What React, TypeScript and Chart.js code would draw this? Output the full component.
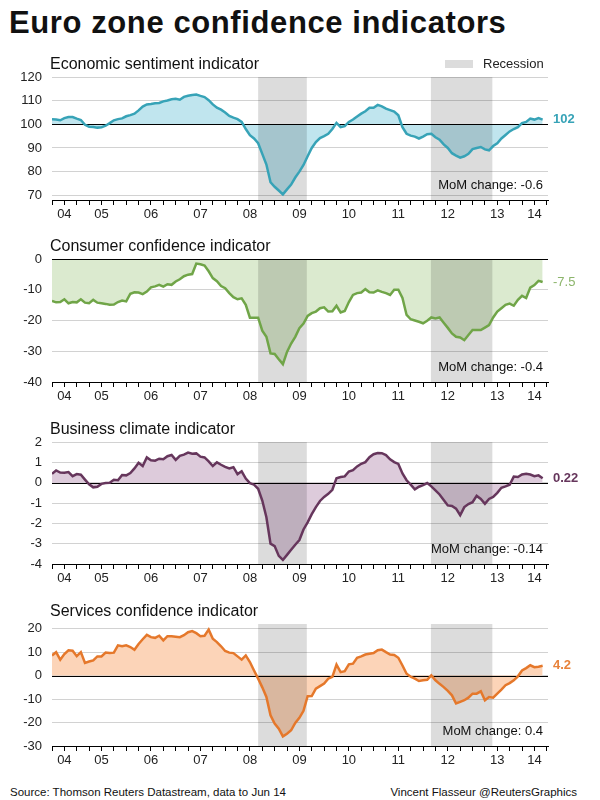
import React, { useEffect, useRef } from "react";
import { Chart, registerables } from "chart.js";

Chart.register(...registerables);

const FONT = '"Liberation Sans", Arial, Helvetica, sans-serif';

// Monthly values, index 0 = Jul 2004 ... index 119 = Jun 2014
const esiValues = [
  102.1, 102.0, 101.7, 102.6, 103.1, 103.1, 102.4, 101.8, 99.8, 99.0, 98.9, 98.6,
  98.7, 99.4, 100.5, 101.7, 102.2, 102.5, 103.4, 103.9, 104.5, 105.9, 107.5, 108.4,
  108.6, 108.9, 109.0, 109.7, 110.1, 110.6, 110.8, 110.4, 111.6, 112.1, 112.4, 112.6,
  112.0, 111.5, 110.2, 108.4, 107.0, 106.2, 105.0, 103.5, 102.8, 102.2, 101.0, 98.0,
  95.4, 94.0, 92.0, 87.5, 83.0, 75.5, 73.6, 72.0, 70.4, 72.5, 74.5, 77.5,
  80.0, 82.8, 86.5, 90.0, 92.5, 94.2, 95.0, 96.0, 98.0, 100.6, 98.8, 99.2,
  101.0, 102.0, 103.3, 104.5, 105.5, 107.0, 107.0, 108.2, 107.6, 106.6, 106.0, 105.4,
  103.8, 98.8, 96.0, 95.2, 94.8, 94.0, 94.8, 95.8, 96.0, 94.5, 93.5, 91.5,
  90.0, 87.8, 86.8, 85.9, 86.5, 87.5, 89.5, 90.0, 90.4, 89.4, 89.0, 90.8,
  92.0, 94.0, 95.5, 97.0, 98.0, 98.8, 100.5, 101.0, 102.4, 102.0, 102.6, 102.0,
];

const consumerValues = [
  -13.6, -14.1, -14.0, -13.1, -14.4, -14.0, -14.1, -13.1, -14.2, -14.4, -13.3, -14.2,
  -14.4, -14.6, -14.9, -14.8, -14.0, -13.5, -13.8, -11.3, -10.8, -10.9, -11.4, -10.6,
  -9.2, -8.9, -8.4, -9.0, -8.2, -8.4, -7.3, -6.6, -5.6, -5.1, -4.9, -1.5,
  -1.7, -2.1, -4.0, -6.2, -7.2, -8.8, -9.5, -11.1, -12.4, -13.1, -12.8, -14.9,
  -19.1, -19.1, -19.1, -23.3, -25.3, -30.7, -30.9, -32.6, -34.2, -30.2, -27.5, -25.3,
  -22.5, -21.0, -18.5, -17.6, -17.1, -16.0, -15.7, -17.1, -17.0, -15.2, -17.4, -16.9,
  -14.0, -11.7, -11.1, -10.9, -9.8, -10.8, -10.9, -10.2, -10.7, -11.1, -11.7, -10.0,
  -10.0, -12.7, -18.2, -19.6, -20.0, -20.4, -20.9, -20.1, -19.0, -19.3, -19.0, -20.7,
  -22.4, -24.2, -25.3, -25.5, -26.4, -24.7, -23.1, -23.1, -23.1, -22.3, -21.5, -19.0,
  -17.1, -16.0, -14.9, -14.5, -15.2, -13.3, -12.0, -12.7, -9.3, -8.5, -7.1, -7.5,
];

const businessValues = [
  0.44, 0.6, 0.5, 0.49, 0.52, 0.32, 0.42, 0.39, 0.15, -0.08, -0.23, -0.2,
  -0.06, -0.02, -0.01, 0.14, 0.12, 0.38, 0.36, 0.47, 0.7, 0.98, 0.82, 1.24,
  1.1, 1.08, 1.18, 1.15, 1.3, 1.36, 1.12, 1.32, 1.38, 1.48, 1.42, 1.44,
  1.28, 1.24, 1.05, 0.82, 1.0, 0.88, 0.78, 0.7, 0.76, 0.42, 0.56, 0.2,
  -0.02, -0.1, -0.3, -0.88, -1.7, -3.0, -3.12, -3.6, -3.8, -3.55, -3.3, -3.05,
  -2.82, -2.3, -1.95, -1.55, -1.2, -0.9, -0.7, -0.55, -0.35, 0.22, 0.28, 0.31,
  0.55, 0.62, 0.8, 0.93, 1.01, 1.25, 1.4, 1.46, 1.45, 1.36, 1.15, 1.01,
  0.92, 0.45, 0.12, -0.1, -0.33, -0.2, -0.12, -0.02, -0.18, -0.38, -0.58, -0.85,
  -1.12, -1.15, -1.28, -1.6, -1.2, -1.05, -0.96, -0.65, -0.8, -1.04, -0.8, -0.7,
  -0.5, -0.25, -0.18, -0.1, 0.3, 0.28, 0.4, 0.44, 0.4, 0.32, 0.36, 0.22,
];

const servicesValues = [
  8.6, 10.0, 6.8, 9.2, 10.8, 10.6, 8.3, 10.0, 5.4, 6.0, 6.5, 8.2,
  8.2, 9.8, 9.6, 9.8, 12.9, 12.5, 12.9, 12.2, 11.0, 13.5, 15.5, 17.4,
  16.4, 16.1, 17.0, 15.0, 16.8, 16.8, 16.6, 16.4, 17.2, 18.5, 19.0, 18.1,
  16.8, 17.0, 19.6, 15.7, 14.3, 12.5, 10.5, 9.8, 9.6, 8.2, 6.8, 8.6,
  5.8, 2.2, -1.3, -5.0, -9.1, -16.9, -20.4, -22.6, -25.9, -24.8, -23.3, -20.2,
  -18.0, -15.0, -8.8, -8.7, -5.6, -4.5, -3.4, -1.3, -0.5, 4.7, 1.5, 1.9,
  4.8, 5.1, 7.6, 8.2, 9.0, 9.3, 9.6, 10.8, 11.1, 10.0, 9.0, 8.8,
  7.6, 4.3, 0.8, -0.5, -1.3, -2.3, -2.0, -1.8, 0.1, -2.0, -3.5, -4.9,
  -6.5, -8.4, -11.9, -11.2, -10.5, -9.4, -7.7, -7.7, -6.7, -10.5, -9.1, -9.4,
  -7.7, -6.0, -4.1, -3.2, -2.0, -0.3, 2.2, 3.2, 4.4, 3.6, 3.8, 4.2,
];

// x axis: quarterly ticks, year labels
const quarterTicks = Array.from({ length: 41 }, (_, i) => i * 3);
const yearLabels = ["04", "05", "06", "07", "08", "09", "10", "11", "12", "13", "14"];
const yearLabelPos = [3, 12, 24, 36, 48, 60, 72, 84, 96, 108, 117];

// recession periods (months since Jul 2004)
const recessionStart = [50, 91.9];
const recessionEnd = [61.8, 106.8];

const esiTicks = [70, 80, 90, 100, 110, 120];
const consumerTicks = [-40, -30, -20, -10, 0];
const businessTicks = [-4, -3, -2, -1, 0, 1, 2];
const servicesTicks = [-30, -20, -10, 0, 10, 20];

const panelTitles = [
  "Economic sentiment indicator",
  "Consumer confidence indicator",
  "Business climate indicator",
  "Services confidence indicator",
];
const endLabels = ["102", "-7.5", "0.22", "4.2"];
const momLabels = [
  "MoM change: -0.6",
  "MoM change: -0.4",
  "MoM change: -0.14",
  "MoM change: 0.4",
];

type PanelCfg = {
  values: number[];
  ticks: number[];
  min: number;
  max: number;
  base: number;
  line: string;
  fill: string;
  labelColor: string;
  labelBold: boolean;
  plotTop: number;
  plotBottom: number;
  title: string;
  endLabel: string;
  mom: string;
};

const panels: PanelCfg[] = [
  {
    values: esiValues, ticks: esiTicks, min: 68, max: 120, base: 100,
    line: "#37a3b7", fill: "#c0e5ee", labelColor: "#37a3b7", labelBold: true,
    plotTop: 77, plotBottom: 200, title: panelTitles[0], endLabel: endLabels[0], mom: momLabels[0],
  },
  {
    values: consumerValues, ticks: consumerTicks, min: -40, max: 0, base: 0,
    line: "#70a548", fill: "#dbeacf", labelColor: "#8cb56b", labelBold: false,
    plotTop: 259, plotBottom: 382, title: panelTitles[1], endLabel: endLabels[1], mom: momLabels[1],
  },
  {
    values: businessValues, ticks: businessTicks, min: -4, max: 2, base: 0,
    line: "#66365c", fill: "#ddcbdb", labelColor: "#66365c", labelBold: true,
    plotTop: 442, plotBottom: 564, title: panelTitles[2], endLabel: endLabels[2], mom: momLabels[2],
  },
  {
    values: servicesValues, ticks: servicesTicks, min: -30, max: 22, base: 0,
    line: "#e5782b", fill: "#fcd4b8", labelColor: "#e8823a", labelBold: true,
    plotTop: 624, plotBottom: 746, title: panelTitles[3], endLabel: endLabels[3], mom: momLabels[3],
  },
];

// top padding larger than the y-axis label padding Chart.js reserves (half label + tick padding)
const PAD_TOP = 22;
const X_AXIS_H = 32;

function Panel({ cfg }: { cfg: PanelCfg }) {
  const ref = useRef<HTMLCanvasElement>(null);
  const top = cfg.plotTop - PAD_TOP;
  const height = cfg.plotBottom - cfg.plotTop + PAD_TOP + X_AXIS_H;

  useEffect(() => {
    const decor = {
      id: "decor",
      beforeDatasetsDraw(chart: any) {
        const { ctx, chartArea: a, scales } = chart;
        const xs = scales.x;
        const ys = scales.y;
        ctx.save();
        ctx.globalCompositeOperation = "multiply";
        ctx.fillStyle = "#dcdcdc";
        recessionStart.forEach((s, k) => {
          const x0 = xs.getPixelForValue(s);
          const x1 = xs.getPixelForValue(recessionEnd[k]);
          ctx.fillRect(x0, a.top, x1 - x0, a.bottom - a.top);
        });
        ctx.restore();
        ctx.save();
        const yb = Math.round(ys.getPixelForValue(cfg.base)) + 0.5;
        ctx.strokeStyle = "#000";
        ctx.lineWidth = 1;
        ctx.beginPath();
        ctx.moveTo(a.left, yb);
        ctx.lineTo(a.right, yb);
        ctx.stroke();
        ctx.restore();
      },
      afterDraw(chart: any) {
        const { ctx, chartArea: a, scales } = chart;
        const ys = scales.y;
        const last = cfg.values[cfg.values.length - 1];
        ctx.save();
        ctx.textBaseline = "middle";
        ctx.textAlign = "left";
        ctx.fillStyle = cfg.labelColor;
        ctx.font = `${cfg.labelBold ? "bold " : ""}13px ${FONT}`;
        ctx.fillText(cfg.endLabel, a.right + 5, ys.getPixelForValue(last));
        ctx.textAlign = "right";
        ctx.fillStyle = "#111";
        ctx.font = `13px ${FONT}`;
        ctx.fillText(cfg.mom, a.right - 5, a.bottom - 15);
        ctx.restore();
      },
    };

    const chart = new Chart(ref.current as HTMLCanvasElement, {
      type: "line",
      data: {
        datasets: [
          {
            data: cfg.values.map((v, i) => ({ x: i, y: v })),
            borderColor: cfg.line,
            backgroundColor: cfg.fill,
            borderWidth: 2.5,
            pointRadius: 0,
            tension: 0,
            fill: { value: cfg.base },
          },
        ],
      },
      options: {
        animation: false,
        responsive: false,
        maintainAspectRatio: false,
        events: [],
        layout: { padding: { top: PAD_TOP, left: 0, right: 52, bottom: 0 } },
        plugins: {
          legend: { display: false },
          tooltip: { enabled: false },
          filler: { drawTime: "beforeDatasetsDraw" },
        },
        scales: {
          x: {
            type: "linear",
            min: 0,
            max: 120.3,
            afterBuildTicks: (axis: any) => {
              axis.ticks = quarterTicks.map((v) => ({ value: v }));
            },
            afterFit: (axis: any) => {
              axis.height = X_AXIS_H;
            },
            ticks: {
              autoSkip: false,
              maxRotation: 0,
              padding: 2,
              color: "#222",
              font: { family: FONT, size: 13 },
              callback: (v: any) => {
                const k = yearLabelPos.indexOf(Number(v));
                return k >= 0 ? yearLabels[k] : "";
              },
            },
            grid: {
              display: true,
              drawOnChartArea: false,
              drawTicks: true,
              tickLength: 5,
              color: "#000",
              lineWidth: 1,
            },
            border: { display: true, color: "#000", width: 1 },
          },
          y: {
            type: "linear",
            min: cfg.min,
            max: cfg.max,
            afterBuildTicks: (axis: any) => {
              axis.ticks = cfg.ticks.map((v) => ({ value: v }));
            },
            afterFit: (axis: any) => {
              axis.width = 52;
            },
            ticks: {
              padding: 10,
              color: "#222",
              font: { family: FONT, size: 13 },
            },
            grid: {
              color: "#d2d2d2",
              lineWidth: 1,
              drawTicks: false,
            },
            border: { display: false },
          },
        },
      },
      plugins: [decor],
    } as any);
    return () => chart.destroy();
  }, [cfg]);

  return (
    <canvas
      ref={ref}
      width={600}
      height={height}
      style={{ position: "absolute", left: 0, top, width: 600, height }}
    />
  );
}

export default function App() {
  return (
    <div
      style={{
        position: "absolute",
        left: 0,
        top: 0,
        width: 600,
        height: 800,
        background: "#fff",
        fontFamily: FONT,
        color: "#111",
        overflow: "hidden",
      }}
    >
      {panels.map((p, i) => (
        <Panel key={"p" + i} cfg={p} />
      ))}
      <div
        style={{
          position: "absolute",
          left: 9,
          top: 7,
          fontSize: 31,
          lineHeight: "31px",
          fontWeight: "bold",
          letterSpacing: 0.6,
          whiteSpace: "nowrap",
        }}
      >
        Euro zone confidence indicators
      </div>
      {panels.map((p, i) => (
        <div
          key={"t" + i}
          style={{
            position: "absolute",
            left: 50,
            top: p.plotTop - 21,
            fontSize: 16,
            lineHeight: "16px",
            whiteSpace: "nowrap",
            color: "#111",
          }}
        >
          {p.title}
        </div>
      ))}
      <div
        style={{
          position: "absolute",
          left: 445,
          top: 60,
          width: 28,
          height: 8,
          background: "#dcdcdc",
        }}
      />
      <div
        style={{
          position: "absolute",
          left: 483,
          top: 57,
          fontSize: 13,
          lineHeight: "14px",
          whiteSpace: "nowrap",
          color: "#222",
        }}
      >
        Recession
      </div>
      <div
        style={{
          position: "absolute",
          left: 10,
          top: 786,
          fontSize: 11.5,
          lineHeight: "13px",
          whiteSpace: "nowrap",
          color: "#111",
        }}
      >
        Source: Thomson Reuters Datastream, data to Jun 14
      </div>
      <div
        style={{
          position: "absolute",
          right: 23,
          top: 786,
          fontSize: 11.5,
          lineHeight: "13px",
          whiteSpace: "nowrap",
          color: "#111",
        }}
      >
        Vincent Flasseur @ReutersGraphics
      </div>
    </div>
  );
}
